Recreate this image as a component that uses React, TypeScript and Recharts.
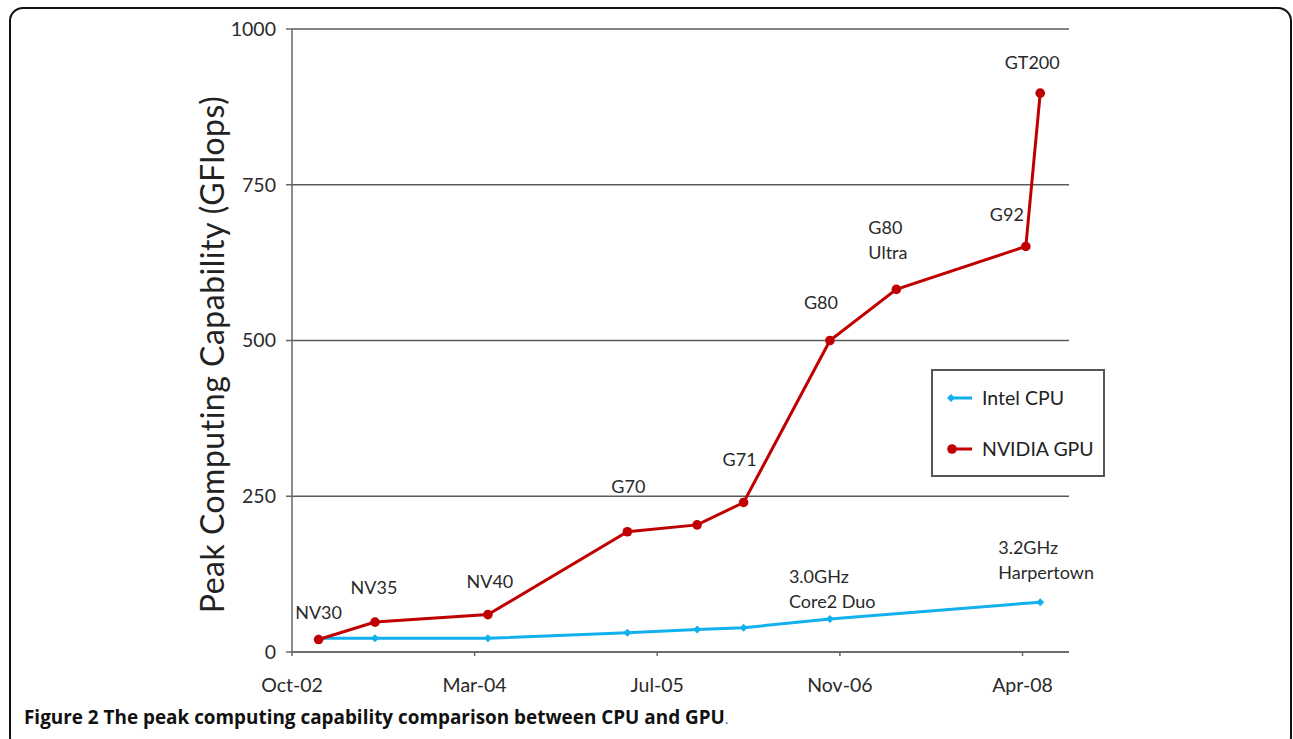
import React from "react";
import { LineChart, Line, XAxis, YAxis, CartesianGrid, Legend, LabelList } from "recharts";

// x values are months after Oct-02
const tickLabels = ["Oct-02", "Mar-04", "Jul-05", "Nov-06", "Apr-08"];
const tickMonths = [0, 16.5, 33, 49.5, 66];
const yTicks = [0, 250, 500, 750, 1000];

const gpuNames = ["NV30", "NV35", "NV40", "G70", "", "G71", "G80", "G80\nUltra", "G92", "GT200"];
const gpuMonths = [2.4, 7.5, 17.7, 30.3, 36.6, 40.8, 48.6, 54.6, 66.3, 67.6];
const gpuGflops = [20, 48, 60, 193, 204, 240, 500, 582, 651, 897];

const cpuNames = ["", "", "", "", "", "", "3.0GHz\nCore2 Duo", "3.2GHz\nHarpertown"];
const cpuMonths = [2.4, 7.5, 17.7, 30.3, 36.6, 40.8, 48.6, 67.6];
const cpuGflops = [22, 22, 22, 31, 36, 39, 53, 80];

const RED = "#c00000";
const BLUE = "#12b0ee";
const FONT = "Lato, 'Open Sans', sans-serif";

const gpuData = gpuMonths.map((m, i) => ({ month: m, gflops: gpuGflops[i], name: gpuNames[i] }));
const cpuData = cpuMonths.map((m, i) => ({ month: m, gflops: cpuGflops[i], name: cpuNames[i] }));

// label placement relative to the point: dx, dy (first line centre), anchor
const labelPlace: Record<string, [number, number, "middle" | "start"]> = {
  NV30: [0, -27, "middle"],
  NV35: [-1, -35, "middle"],
  NV40: [2, -33, "middle"],
  G70: [1, -45, "middle"],
  G71: [-4, -43, "middle"],
  G80: [-9, -38, "middle"],
  "G80\nUltra": [-28, -62, "start"],
  G92: [-19, -32, "middle"],
  GT200: [-8, -31, "middle"],
  "3.0GHz\nCore2 Duo": [-41, -42, "start"],
  "3.2GHz\nHarpertown": [-42, -55, "start"],
};

function PointLabel(props: any) {
  const { x, y, value } = props;
  const place = labelPlace[value];
  if (!value || !place) return null;
  const [dx, dy, anchor] = place;
  return (
    <text x={x + dx} textAnchor={anchor} fontFamily={FONT} fontSize={18} fill="#2a2a2a">
      {String(value).split("\n").map((line, i) => (
        <tspan key={i} x={x + dx} y={y + dy + i * 25 + 6.5}>{line}</tspan>
      ))}
    </text>
  );
}

function GpuDot(props: any) {
  const { cx, cy, index } = props;
  return <circle key={"g" + index} cx={cx} cy={cy} r={4.8} fill={RED} />;
}

function CpuDot(props: any) {
  const { cx, cy, index } = props;
  const s = 4;
  return (
    <polygon key={"c" + index} points={`${cx},${cy - s} ${cx + s},${cy} ${cx},${cy + s} ${cx - s},${cy}`} fill={BLUE} />
  );
}

function YTitle(props: any) {
  const vb = props.viewBox;
  const x = vb.x + 42;
  const y = vb.y + vb.height / 2 + 14;
  return (
    <text
      x={x}
      y={y}
      transform={`rotate(-90, ${x}, ${y})`}
      textAnchor="middle"
      fontFamily={FONT}
      fontSize={32}
      letterSpacing={0.5}
      fill="#222"
    >
      Peak Computing Capability (GFlops)
    </text>
  );
}

function LegendBox() {
  const items = [
    { name: "Intel CPU", color: BLUE, marker: "diamond", y: 29 },
    { name: "NVIDIA GPU", color: RED, marker: "circle", y: 80 },
  ];
  return (
    <svg width={174} height={108} style={{ display: "block" }}>
      <rect x={1} y={1} width={172} height={106} fill="#fff" stroke="#555" strokeWidth={2} />
      {items.map((it) => (
        <g key={it.name}>
          <line x1={20} x2={41} y1={it.y} y2={it.y} stroke={it.color} strokeWidth={3} />
          {it.marker === "circle" ? (
            <circle cx={21} cy={it.y} r={4.8} fill={it.color} />
          ) : (
            <polygon points={`20,${it.y - 4} 24,${it.y} 20,${it.y + 4} 16,${it.y}`} fill={it.color} />
          )}
          <text x={51} y={it.y + 7} fontFamily={FONT} fontSize={19.5} fill="#222">{it.name}</text>
        </g>
      ))}
    </svg>
  );
}

export default function App() {
  return (
    <div style={{ position: "absolute", left: 0, top: 0, width: 1293, height: 739, overflow: "hidden", background: "#fff" }}>
      <div
        style={{
          position: "absolute",
          left: 9,
          top: 7,
          width: 1279,
          height: 740,
          border: "2px solid #111",
          borderRadius: 14,
        }}
      />
      <div style={{ position: "absolute", left: 0, top: 0 }}>
        <LineChart width={1293} height={739} margin={{ top: 29, right: 224, bottom: 47, left: 182 }}>
          <CartesianGrid vertical={false} stroke="#5a5a5a" strokeWidth={1.5} />
          <XAxis
            dataKey="month"
            type="number"
            domain={[0, 70.2]}
            ticks={tickMonths}
            tickFormatter={(v: number) => tickLabels[tickMonths.indexOf(v)]}
            height={40}
            stroke="#666"
            strokeWidth={1.5}
            tickSize={4}
            tickMargin={22}
            tick={{ fontSize: 19.5, fill: "#2a2a2a", fontFamily: FONT }}
            allowDataOverflow
          />
          <YAxis
            type="number"
            domain={[0, 1000]}
            ticks={yTicks}
            width={110}
            stroke="#666"
            strokeWidth={1.5}
            tickSize={6}
            tickMargin={10}
            tick={{ fontSize: 19.5, fill: "#2a2a2a", fontFamily: FONT }}
            label={<YTitle />}
          />
          <Legend
            layout="vertical"
            align="center"
            verticalAlign="middle"
            content={() => <LegendBox />}
            wrapperStyle={{ left: 931, top: 369, width: 174, height: 108 }}
          />
          <Line
            data={cpuData}
            dataKey="gflops"
            name="Intel CPU"
            stroke={BLUE}
            strokeWidth={3}
            dot={<CpuDot />}
            isAnimationActive={false}
          >
            <LabelList dataKey="name" content={<PointLabel />} />
          </Line>
          <Line
            data={gpuData}
            dataKey="gflops"
            name="NVIDIA GPU"
            stroke={RED}
            strokeWidth={3}
            dot={<GpuDot />}
            isAnimationActive={false}
          >
            <LabelList dataKey="name" content={<PointLabel />} />
          </Line>
        </LineChart>
      </div>
      <div
        style={{
          position: "absolute",
          left: 24,
          top: 704,
          fontFamily: "'Open Sans', sans-serif",
          fontWeight: 700,
          fontSize: 18.9,
          color: "#111",
          whiteSpace: "nowrap",
        }}
      >
        Figure 2 The peak computing capability comparison between CPU and GPU
        <span style={{ fontWeight: 400, fontSize: 14, color: "#555" }}>.</span>
      </div>
    </div>
  );
}
